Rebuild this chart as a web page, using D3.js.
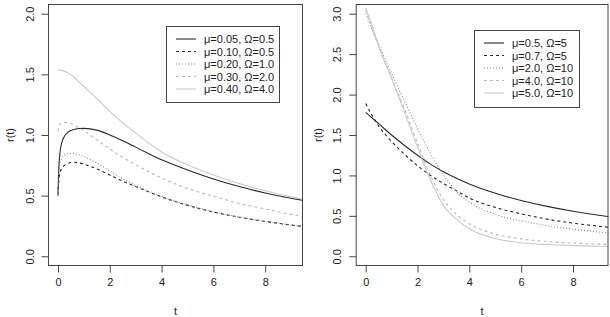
<!doctype html>
<html>
<head>
<script src="https://d3js.org/d3.v7.min.js"></script>
<style>
  body { margin: 0; background: #fff; }
  text { font-family: "Liberation Sans", Arial, sans-serif; font-size: 11px; fill: #222; }
</style>
</head>
<body>
<svg width="610" height="317"></svg>
<script>
// ---- data ----
var leftT = [0, 0.03, 0.08, 0.15, 0.25, 0.4, 0.6, 0.8, 1, 1.5, 2, 2.5, 3, 4, 5, 6, 7, 8, 9, 9.5];
var leftLabels = ["\u03bc=0.05, \u03a9=0.5", "\u03bc=0.10, \u03a9=0.5", "\u03bc=0.20, \u03a9=1.0", "\u03bc=0.30, \u03a9=2.0", "\u03bc=0.40, \u03a9=4.0"];
var left1 = [0.52, 0.72, 0.86, 0.94, 0.99, 1.025, 1.045, 1.053, 1.055, 1.04, 1.0, 0.952, 0.9, 0.795, 0.712, 0.638, 0.575, 0.522, 0.478, 0.46];
var left2 = [0.5, 0.62, 0.69, 0.725, 0.75, 0.767, 0.775, 0.77, 0.76, 0.72, 0.67, 0.62, 0.575, 0.49, 0.42, 0.365, 0.322, 0.287, 0.258, 0.245];
var left3 = [0.5, 0.66, 0.76, 0.81, 0.835, 0.848, 0.848, 0.838, 0.822, 0.77, 0.705, 0.64, 0.585, 0.495, 0.425, 0.368, 0.323, 0.288, 0.259, 0.246];
var left4 = [1.03, 1.06, 1.085, 1.1, 1.105, 1.1, 1.085, 1.06, 1.035, 0.96, 0.885, 0.815, 0.755, 0.645, 0.56, 0.495, 0.437, 0.39, 0.345, 0.325];
var left5 = [1.535, 1.535, 1.535, 1.533, 1.525, 1.51, 1.48, 1.44, 1.4, 1.3, 1.195, 1.1, 1.015, 0.86, 0.755, 0.67, 0.6, 0.54, 0.49, 0.47];

var rightT = [0, 0.25, 0.5, 1, 1.5, 2, 2.5, 3, 3.5, 4, 5, 6, 7, 8, 9, 9.5];
var rightLabels = ["\u03bc=0.5, \u03a9=5", "\u03bc=0.7, \u03a9=5", "\u03bc=2.0, \u03a9=10", "\u03bc=4.0, \u03a9=10", "\u03bc=5.0, \u03a9=10"];
var right1 = [1.78, 1.71, 1.64, 1.5, 1.37, 1.25, 1.14, 1.045, 0.965, 0.895, 0.78, 0.69, 0.617, 0.557, 0.507, 0.485];
var right2 = [1.89, 1.74, 1.61, 1.42, 1.26, 1.12, 1.0, 0.9, 0.81, 0.72, 0.605, 0.525, 0.46, 0.41, 0.372, 0.355];
var right3 = [3.0, 2.8, 2.62, 2.26, 1.92, 1.58, 1.27, 1.01, 0.8, 0.67, 0.52, 0.44, 0.38, 0.335, 0.3, 0.285];
var right4 = [3.05, 2.82, 2.6, 2.2, 1.82, 1.4, 1.0, 0.7, 0.52, 0.4, 0.275, 0.215, 0.183, 0.163, 0.15, 0.145];
var right5 = [3.07, 2.85, 2.6, 2.2, 1.78, 1.35, 0.94, 0.63, 0.46, 0.34, 0.22, 0.168, 0.145, 0.132, 0.124, 0.12];

var xTicks = [0, 2, 4, 6, 8];
var leftYTicks = [0, 0.5, 1, 1.5, 2];
var rightYTicks = [0, 0.5, 1, 1.5, 2, 2.5, 3];

// line styles (R lty 1..5 look, greys)
var styles = [
  { color: "#2a2a2a", dash: null },
  { color: "#2a2a2a", dash: "3,3" },
  { color: "#8a8a8a", dash: "1,2" },
  { color: "#b8b8b8", dash: "3,3" },
  { color: "#c8c8c8", dash: null }
];

var svg = d3.select("svg");

function panel(opt) {
  var g = svg.append("g");
  var x = d3.scaleLinear().domain([-0.386, opt.xMax]).range([opt.left, opt.right]);
  var y = d3.scaleLinear().domain(opt.yDomain).range([266, 4]);

  var clipId = "clip" + opt.id;
  svg.append("clipPath").attr("id", clipId)
    .append("rect").attr("x", opt.left).attr("y", 4)
    .attr("width", opt.right - opt.left).attr("height", 262);

  var line = d3.line()
    .x(function(d) { return x(d[0]); })
    .y(function(d) { return y(d[1]); })
    .curve(d3.curveMonotoneX);

  opt.series.forEach(function(vals, i) {
    var pts = opt.t.map(function(t, j) { return [t, vals[j]]; });
    g.append("path")
      .attr("clip-path", "url(#" + clipId + ")")
      .attr("d", line(pts))
      .attr("fill", "none")
      .attr("stroke", styles[i].color)
      .attr("stroke-width", 1.1)
      .attr("stroke-dasharray", styles[i].dash);
  });

  // box
  g.append("rect")
    .attr("x", opt.left + 0.5).attr("y", 4.5)
    .attr("width", opt.right - opt.left - 1).attr("height", 261)
    .attr("fill", "none").attr("stroke", "#444").attr("stroke-width", 1);

  // x axis
  var xa = g.append("g").attr("transform", "translate(0,265.5)")
    .call(d3.axisBottom(x).tickValues(xTicks).tickSize(7).tickPadding(6).tickFormat(d3.format("d")));
  xa.select(".domain").remove();
  xa.selectAll("line").attr("stroke", "#444");
  xa.selectAll("text").style("font-size", "11px").attr("fill", "#222");

  // y axis, labels parallel to the axis like R
  var ya = g.append("g").attr("transform", "translate(" + (opt.left + 0.5) + ",0)")
    .call(d3.axisLeft(y).tickValues(opt.yTicks).tickSize(7).tickFormat(d3.format(".1f")));
  ya.select(".domain").remove();
  ya.selectAll("line").attr("stroke", "#444");
  ya.selectAll("text")
    .attr("x", null).attr("dy", null)
    .attr("text-anchor", "middle")
    .attr("transform", "translate(-15,0) rotate(-90)")
    .style("font-size", "11px").attr("fill", "#222");

  // titles
  g.append("text").attr("x", (opt.left + opt.right) / 2).attr("y", 315)
    .attr("text-anchor", "middle").text("t");
  g.append("text")
    .attr("transform", "translate(" + (opt.left - 34) + ",135) rotate(-90)")
    .attr("text-anchor", "middle").text("r(t)");

  // legend
  var L = opt.legend;
  g.append("rect").attr("x", L.x + 0.5).attr("y", L.y + 0.5)
    .attr("width", L.w).attr("height", L.h)
    .attr("fill", "#fff").attr("stroke", "#444");
  opt.labels.forEach(function(lab, i) {
    var yy = L.y + 13 + i * 12.5;
    g.append("line").attr("x1", L.x + 10).attr("x2", L.x + 30)
      .attr("y1", yy).attr("y2", yy)
      .attr("stroke", styles[i].color).attr("stroke-width", 1.1)
      .attr("stroke-dasharray", styles[i].dash);
    g.append("text").attr("x", L.x + 38).attr("y", yy + 4).text(lab);
  });
}

panel({
  id: "L", left: 48, right: 303, xMax: 9.46,
  yDomain: [-0.08, 2.08], yTicks: leftYTicks,
  t: leftT, series: [left1, left2, left3, left4, left5], labels: leftLabels,
  legend: { x: 166, y: 26, w: 113, h: 76 }
});

panel({
  id: "R", left: 355.7, right: 608.5, xMax: 9.37,
  yDomain: [-0.12, 3.12], yTicks: rightYTicks,
  t: rightT, series: [right1, right2, right3, right4, right5], labels: rightLabels,
  legend: { x: 474, y: 30, w: 105, h: 77 }
});
</script>
</body>
</html>
